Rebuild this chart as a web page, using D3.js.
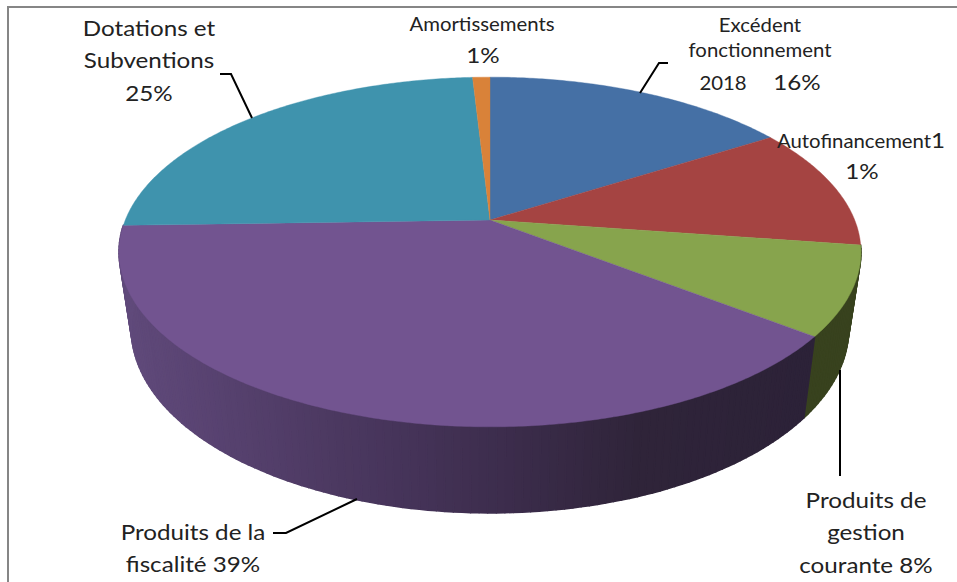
<!DOCTYPE html>
<html><head><meta charset="utf-8">
<script src="https://cdn.jsdelivr.net/npm/d3@7"></script>
<style>html,body{margin:0;padding:0;background:#fff}svg{display:block}text{font-family:Lato,"Open Sans",sans-serif;fill:#222;text-anchor:middle}</style>
</head><body><script>
const categories = ["Excédent fonctionnement 2018","Autofinancement1","Produits de gestion courante","Produits de la fiscalité","Dotations et Subventions","Amortissements"];
const values = [16, 11.3, 8.2, 39, 24.6, 0.9];
const colors = ["#4570a5","#a54442","#87a44d","#725490","#3f93ad","#d98239"];
const sideColors = {2:"#38421e"};
const sideX = [120, 200, 350, 490, 640, 810];
const sideC = ["#614b7c","#5a4473","#4b3860","#3e2e4f","#2f2439","#2c2238"];
const labelLines = [
 ["Dotations et",149,36,22],["Subventions",149,68,22],["25%",149,101,22],
 ["Amortissements",482,31,18.5],["1%",483,63,22],
 ["Excédent",760,32,18.5],["fonctionnement",760,57,18.5],["2018",723,90,18.5],["16%",797,90,22],
 ["1%",862,179,22],
 ["Produits de",866,508,22],["gestion",866,540,22],["courante 8%",866,573,22],
 ["Produits de la",193,540,22],["fiscalité 39%",193,572,22]
];
const leaders = [
 [[220,74],[231,74],[252,118]],
 [[668,63],[659,63],[640,93]],
 [[840,370],[840,476]],
 [[273,533],[286,533],[357,499]]
];
const W=957,H=582;
const stretch=1.1;
const svg=d3.select("body").append("svg").attr("width",W).attr("height",H);
svg.append("path").attr("d","M8,582V7H957").attr("fill","none").attr("stroke","#868686").attr("stroke-width",2);

const k=0.183;
const topFace={cx:490,cy:220,A:364.7,B:169};
const botFace={cx:490,cy:295,A:352.6,B:178};
const project=(f,t)=>{const s=Math.sin(t),c=Math.cos(t),w=1+k*c;return [f.cx+f.A*s/w,f.cy-f.B*c/w];};
const arcs=d3.pie().sort(null).value(d=>d)(values);
const sample=(a,b,st)=>{const n=Math.max(2,Math.ceil((b-a)/st));return d3.range(n+1).map(i=>a+(b-a)*i/n);};
const line=d3.line();
const sideScale=d3.scaleLinear().domain(sideX).range(sideC).clamp(true);

const RIGHT_START=Math.PI*0.5;
const g=svg.append("g");
const bands=[];
arcs.forEach((a,i)=>{
  if(i!==2&&i!==3) return;
  const from=i===2?Math.max(a.startAngle,RIGHT_START):a.startAngle;
  const ts=sample(from,a.endAngle,0.02);
  for(let j=0;j<ts.length-1;j++) bands.push({i,t0:ts[j],t1:ts[j+1]});
});
g.selectAll("path.b").data(bands).join("path").attr("class","b")
 .attr("d",d=>line([project(topFace,d.t0),project(topFace,d.t1),project(botFace,d.t1),project(botFace,d.t0)])+"Z")
 .each(function(d){
   const col=d.i===2?sideColors[2]:sideScale(project(botFace,d.t0)[0]);
   d3.select(this).attr("fill",col).attr("stroke",col).attr("stroke-width",1.6).attr("stroke-linejoin","round");
 });
g.selectAll("path.s").data(arcs).join("path").attr("class","s")
 .attr("d",a=>line([[topFace.cx,topFace.cy],...sample(a.startAngle,a.endAngle,0.01).map(t=>project(topFace,t))])+"Z")
 .attr("fill",(a,i)=>colors[i]).attr("stroke",(a,i)=>colors[i]).attr("stroke-width",0.4);

svg.selectAll("path.l").data(leaders).join("path").attr("class","l")
 .attr("d",d=>line(d)).attr("fill","none").attr("stroke","#000").attr("stroke-width",2);

svg.selectAll("text.t").data(labelLines).join("text").attr("class","t")
 .attr("transform",d=>`translate(${d[1]},${d[2]}) scale(${stretch},1)`).attr("font-size",d=>d[3]).text(d=>d[0]);
const af=svg.append("text").attr("transform",`translate(777,148) scale(${stretch},1)`).style("text-anchor","start").attr("font-size",18.5).text(categories[1].slice(0,-1));
af.append("tspan").attr("font-size",22).text("1");
</script></body></html>
